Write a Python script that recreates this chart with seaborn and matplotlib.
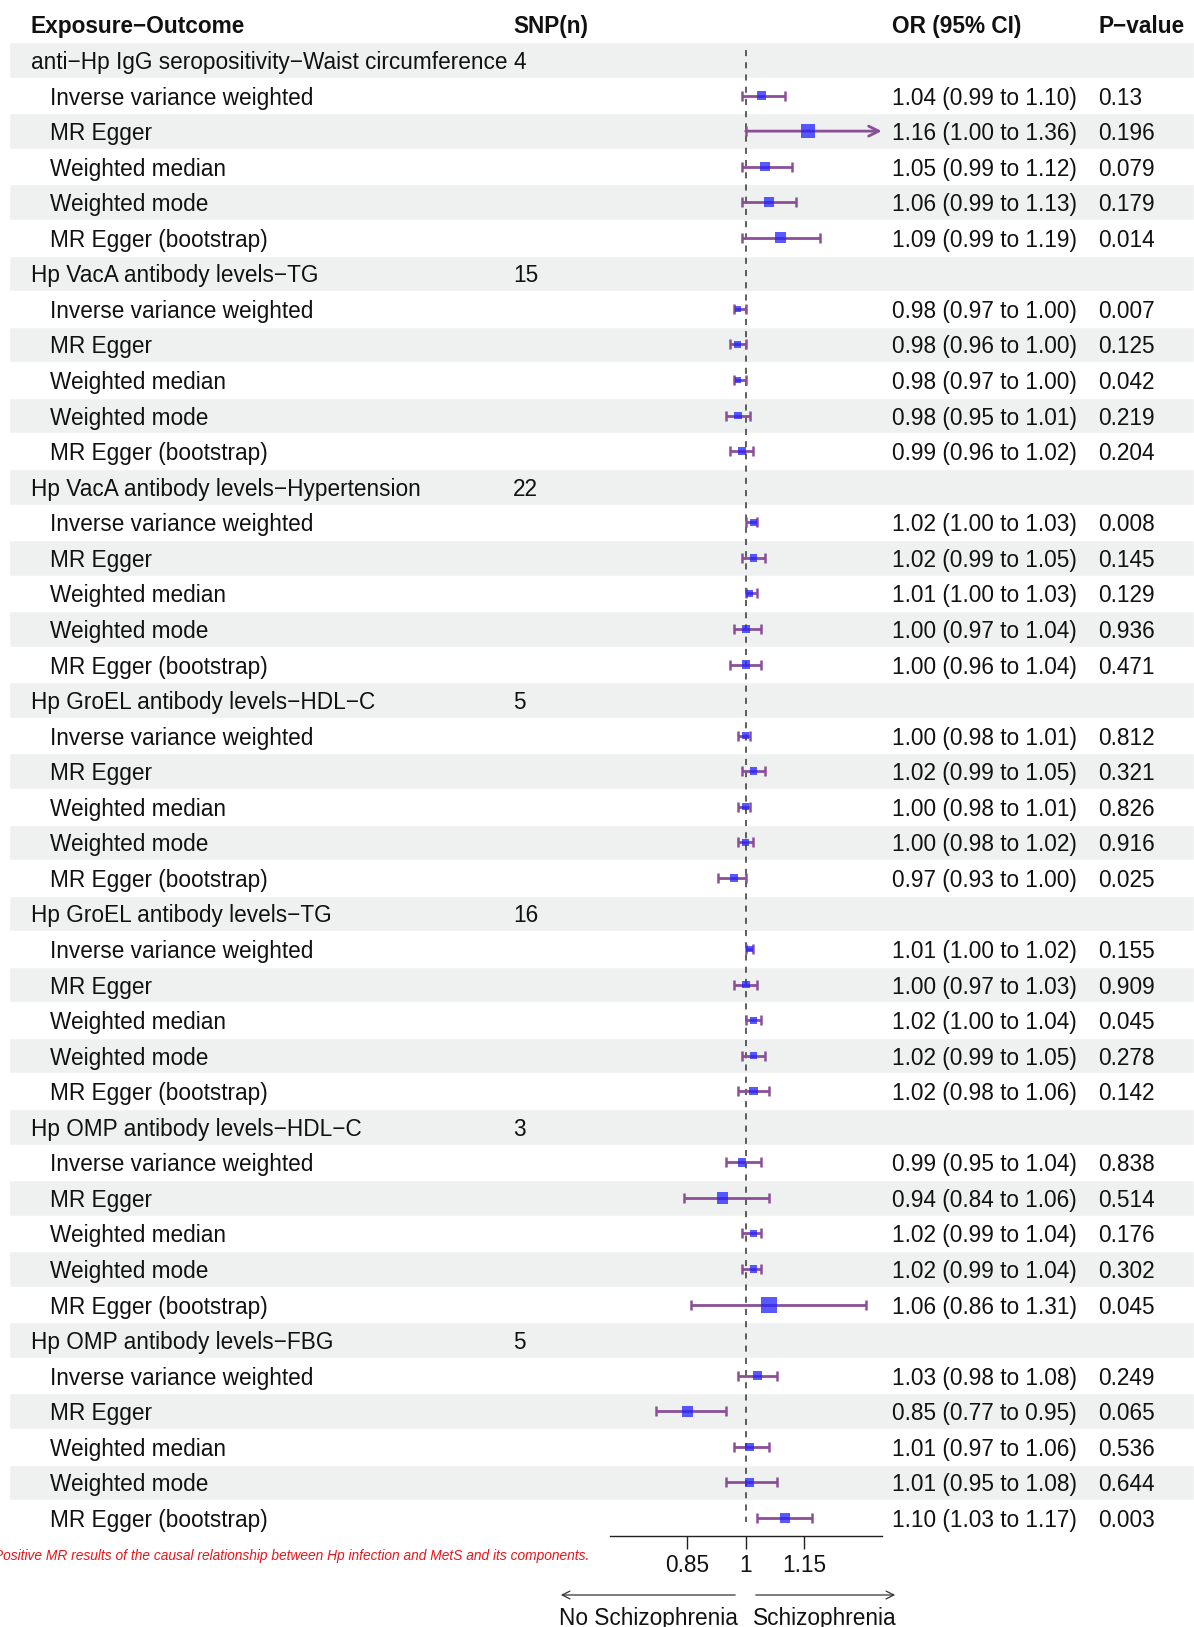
import numpy as np
import pandas as pd
import matplotlib
matplotlib.use('Agg')
import matplotlib.pyplot as plt
import matplotlib.colors as mcolors
import seaborn as sns

# datos
groups = ["anti\u2212Hp IgG seropositivity\u2212Waist circumference",
          "Hp VacA antibody levels\u2212TG",
          "Hp VacA antibody levels\u2212Hypertension",
          "Hp GroEL antibody levels\u2212HDL\u2212C",
          "Hp GroEL antibody levels\u2212TG",
          "Hp OMP antibody levels\u2212HDL\u2212C",
          "Hp OMP antibody levels\u2212FBG"]
snp_n = [4, 15, 22, 5, 16, 3, 5]
methods = ["Inverse variance weighted", "MR Egger", "Weighted median",
           "Weighted mode", "MR Egger (bootstrap)"]

or_est = [1.04, 1.16, 1.05, 1.06, 1.09,
          0.98, 0.98, 0.98, 0.98, 0.99,
          1.02, 1.02, 1.01, 1.00, 1.00,
          1.00, 1.02, 1.00, 1.00, 0.97,
          1.01, 1.00, 1.02, 1.02, 1.02,
          0.99, 0.94, 1.02, 1.02, 1.06,
          1.03, 0.85, 1.01, 1.01, 1.10]
ci_low = [0.99, 1.00, 0.99, 0.99, 0.99,
          0.97, 0.96, 0.97, 0.95, 0.96,
          1.00, 0.99, 1.00, 0.97, 0.96,
          0.98, 0.99, 0.98, 0.98, 0.93,
          1.00, 0.97, 1.00, 0.99, 0.98,
          0.95, 0.84, 0.99, 0.99, 0.86,
          0.98, 0.77, 0.97, 0.95, 1.03]
ci_high = [1.10, 1.36, 1.12, 1.13, 1.19,
           1.00, 1.00, 1.00, 1.01, 1.02,
           1.03, 1.05, 1.03, 1.04, 1.04,
           1.01, 1.05, 1.01, 1.02, 1.00,
           1.02, 1.03, 1.04, 1.05, 1.06,
           1.04, 1.06, 1.04, 1.04, 1.31,
           1.08, 0.95, 1.06, 1.08, 1.17]
p_text = ["0.13", "0.196", "0.079", "0.179", "0.014",
          "0.007", "0.125", "0.042", "0.219", "0.204",
          "0.008", "0.145", "0.129", "0.936", "0.471",
          "0.812", "0.321", "0.826", "0.916", "0.025",
          "0.155", "0.909", "0.045", "0.278", "0.142",
          "0.838", "0.514", "0.176", "0.302", "0.045",
          "0.249", "0.065", "0.536", "0.644", "0.003"]
x_ticks = [0.85, 1, 1.15]
x_lim = (0.65, 1.35)

# tabla larga
rows = []
for g, (name, n) in enumerate(zip(groups, snp_n)):
    for m, meth in enumerate(methods):
        i = g * len(methods) + m
        rows.append(dict(row=g * 6 + 1 + m, method=meth, est=or_est[i],
                         lo=ci_low[i], hi=ci_high[i], p=p_text[i]))
df = pd.DataFrame(rows)
df['width'] = df['hi'] - df['lo']

sns.set_style('white')
plt.rcParams['font.family'] = ['Liberation Sans', 'DejaVu Sans']

W, H = 1194, 1627
TOP, ROW_H = 60, 35.56
n_rows = len(groups) * 6
FS = 16.3
VA = 'center_baseline'

fig = plt.figure(figsize=(W / 100, H / 100), dpi=100)

# eje de la tabla (x en pixeles, y en filas)
tab = fig.add_axes([0, 0, 1, 1])
tab.set_xlim(0, W)
tab.set_ylim((H - TOP) / ROW_H, -TOP / ROW_H)
tab.axis('off')

band_rows = np.arange(0, n_rows, 2)
tab.barh(band_rows, W - 9, left=9, height=1, color='#eff1f0', zorder=0)

# encabezado
hdr = dict(fontsize=FS, fontweight='bold', va=VA, color='#111111')
tab.text(31, -1, "Exposure\u2212Outcome", **hdr)
tab.text(513, -1, "SNP(n)", **hdr)
tab.text(892, -1, "OR (95% CI)", **hdr)
tab.text(1098, -1, "P\u2212value", **hdr)

txt = dict(fontsize=FS, va=VA, color='#111111')
for g, (name, n) in enumerate(zip(groups, snp_n)):
    tab.text(31, g * 6, name, **txt)
    tab.text(513, g * 6, str(n), **txt)
for _, r in df.iterrows():
    tab.text(50, r['row'], r['method'], **txt)
    tab.text(892, r['row'], f"{r['est']:.2f} ({r['lo']:.2f} to {r['hi']:.2f})", **txt)
    tab.text(1098, r['row'], r['p'], **txt)

# nota al pie
tab.text(-6, (1555 - TOP) / ROW_H,
         "Positive MR results of the causal relationship between Hp infection and MetS and its components.",
         fontsize=9.9, style='italic', color='#e8151b', va=VA)

# flechas de direccion
arrow_y = (1595 - TOP) / ROW_H
lab_y = (1616 - TOP) / ROW_H
ap = dict(arrowstyle='->', color='#333333', lw=0.9, mutation_scale=14)
tab.annotate('', xy=(558, arrow_y), xytext=(738, arrow_y), arrowprops=ap)
tab.annotate('', xy=(898, arrow_y), xytext=(753, arrow_y), arrowprops=ap)
tab.text(648, lab_y, "No Schizophrenia", fontsize=FS, ha='center', va=VA, color='#111111')
tab.text(825, lab_y, "Schizophrenia", fontsize=FS, ha='center', va=VA, color='#111111')

# eje del forest plot
x1_px, scale = 745.7, 388.7
left_px = x1_px - (1 - x_lim[0]) * scale
width_px = (x_lim[1] - x_lim[0]) * scale
top_px = TOP - 0.5 * ROW_H
bot_px = TOP + (n_rows - 0.5) * ROW_H
ax = fig.add_axes([left_px / W, 1 - bot_px / H, width_px / W, (bot_px - top_px) / H])
ax.patch.set_alpha(0)
ax.set_xlim(*x_lim)
ax.set_ylim(n_rows - 0.5, -0.5)
for s in ['top', 'left', 'right']:
    ax.spines[s].set_visible(False)
ax.spines['bottom'].set_color('#222222')
ax.spines['bottom'].set_linewidth(1.0)
ax.set_yticks([])
ax.set_xticks(x_ticks)
ax.set_xticklabels([f"{t:g}" for t in x_ticks], fontsize=FS, color='#111111')
ax.tick_params(axis='x', length=9.5, width=1.0, color='#222222', pad=4, direction='out', bottom=True)

ax.vlines(1, -0.28, n_rows - 0.9, colors='#333333', linestyles=(0, (4, 4)), lw=1.1, zorder=1)

line_col = '#8b4f98'
inside = df[df['hi'] <= x_lim[1]]
ax.errorbar(inside['est'], inside['row'],
            xerr=[inside['est'] - inside['lo'], inside['hi'] - inside['est']],
            fmt='none', ecolor=line_col, elinewidth=2, capsize=3.6, capthick=1.8, zorder=2)
outside = df[df['hi'] > x_lim[1]]
for _, r in outside.iterrows():
    ax.annotate('', xy=(x_lim[1], r['row']), xytext=(r['lo'], r['row']),
                arrowprops=dict(arrowstyle='->', color=line_col, lw=2, mutation_scale=18,
                                shrinkA=0, shrinkB=0), zorder=2)
    ax.plot([r['lo']], [r['row']], marker='|', ms=7.2, mew=1.8, color=line_col, zorder=2)

sns.scatterplot(data=df, x='est', y='row', size='width', sizes=(20, 130),
                size_norm=mcolors.Normalize(0.02, 0.45, clip=True),
                marker='s', color='#2222ff', alpha=0.75, edgecolor='none',
                legend=False, ax=ax, zorder=3)
ax.set_xlabel('')
ax.set_ylabel('')

fig.savefig('out.png', dpi=100)
